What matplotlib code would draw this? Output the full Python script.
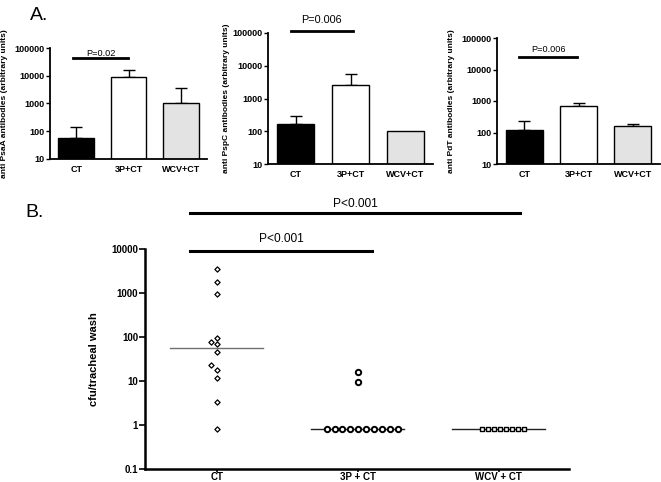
import numpy as np
import matplotlib
matplotlib.use("Agg")
import matplotlib.pyplot as plt
from matplotlib.transforms import blended_transform_factory

plt.rcParams['font.family'] = ['Liberation Sans', 'DejaVu Sans']

# ---------------- data ----------------
groups_a = ["CT", "3P+CT", "WCV+CT"]
psaa_mean = [59, 9300, 1070]
psaa_err = [79, 6500, 2630]
pspc_mean = [162, 2590, 104]
pspc_err = [138, 2860, 0]
pdt_mean = [119, 685, 160]
pdt_err = [111, 185, 28]
bar_colors = ["#000000", "#ffffff", "#e3e3e3"]
ytick_a = [10, 100, 1000, 10000, 100000]

groups_b = ["CT", "3P + CT", "WCV + CT"]
ct_cfu = [3600, 1780, 960, 93, 78, 69, 45, 23, 18, 11.5, 3.3, 0.83]
tp_cfu = [16, 9.6, 0.83, 0.83, 0.83, 0.83, 0.83, 0.83, 0.83, 0.83, 0.83, 0.83]
wcv_cfu = [0.83, 0.83, 0.83, 0.83, 0.83, 0.83, 0.83, 0.83]
ytick_b = [0.1, 1, 10, 100, 1000, 10000]

W, H = 661, 482
fig = plt.figure(figsize=(W / 100, H / 100), dpi=100)

def ax_px(l, t, r, b):
    return fig.add_axes([l / W, 1 - b / H, (r - l) / W, (b - t) / H])

def style(ax, lw=1.3):
    for s in ["top", "right"]:
        ax.spines[s].set_visible(False)
    for s in ["left", "bottom"]:
        ax.spines[s].set_linewidth(lw)

def bar_panel(ax, means, errs, ylabel, labx, pline, ptext, pfs):
    x = np.arange(len(groups_a))
    ax.bar(x, means, width=0.68, color=bar_colors, edgecolor="black", linewidth=1.0, zorder=2)
    errs = np.asarray(errs, dtype=float)
    keep = errs > 0
    ax.errorbar(x[keep], np.asarray(means)[keep], yerr=[np.zeros(keep.sum()), errs[keep]],
                fmt="none", ecolor="black", elinewidth=1.0, capsize=4, capthick=1.0, zorder=1)
    ax.set_yscale("log")
    ax.set_ylim(10, 100000)
    ax.set_xlim(-0.5, 2.5)
    ax.set_yticks(ytick_a)
    ax.set_yticklabels([str(v) for v in ytick_a])
    ax.minorticks_off()
    ax.set_xticks(x)
    ax.set_xticklabels(groups_a)
    ax.tick_params(axis="x", length=0, pad=4)
    ax.tick_params(axis="y", length=3, width=1, pad=1)
    for t in ax.get_xticklabels() + ax.get_yticklabels():
        t.set_fontsize(6.5)
        t.set_fontweight("bold")
    ax.set_ylabel(ylabel, fontsize=6.0, fontweight="bold")
    ax.yaxis.set_label_coords(labx, 0.5)
    style(ax)
    tr = blended_transform_factory(ax.transData, ax.transAxes)
    x0, x1, yl, yt = pline
    ax.plot([x0, x1], [yl, yl], color="black", lw=2, transform=tr, clip_on=False)
    ax.text((x0 + x1) / 2, yt, ptext, transform=tr, ha="center", va="baseline", fontsize=pfs)

ax1 = ax_px(50, 48, 207, 159)
bar_panel(ax1, psaa_mean, psaa_err, "anti PsaA antibodies (arbitrary units)", -0.27,
          (-0.06, 0.99, 0.91, 0.925), "P=0.02", 6.6)
ax2 = ax_px(268, 33, 433, 164)
bar_panel(ax2, pspc_mean, pspc_err, "anti PspC antibodies (arbitrary units)", -0.23,
          (-0.09, 1.04, 1.015, 1.08), "P=0.006", 7.8)
ax3 = ax_px(497, 38, 660, 164)
bar_panel(ax3, pdt_mean, pdt_err, "anti PdT antibodies (arbitrary units)", -0.26,
          (-0.09, 0.98, 0.85, 0.89), "P=0.006", 6.6)

# ---------------- panel B ----------------
axb = ax_px(145, 249, 569, 469)
ct_off = [0, 0, 0, 0, -0.043, 0, 0, -0.043, 0, 0, 0, 0]
axb.scatter(np.array(ct_off) + 0, ct_cfu, marker="D", s=7, facecolors="white",
            edgecolors="black", linewidths=0.9, zorder=3)
tp_off = [0, 0] + list(np.linspace(-0.22, 0.284, 10))
axb.scatter(np.array(tp_off) + 1, tp_cfu, marker="o", s=15, facecolors="white",
            edgecolors="black", linewidths=1.4, zorder=3)
wcv_off = list(np.linspace(-0.12, 0.177, 8))
axb.scatter(np.array(wcv_off) + 2, wcv_cfu, marker="s", s=10, facecolors="white",
            edgecolors="black", linewidths=1.0, zorder=3)
med_colors = ["#707070", "#222222", "#222222"]
for i, vals in enumerate([ct_cfu, tp_cfu, wcv_cfu]):
    m = np.median(vals)
    axb.plot([i - 0.33, i + 0.33], [m, m], color=med_colors[i], lw=1.0, zorder=2)

axb.set_yscale("log")
axb.set_ylim(0.1, 10000)
axb.set_xlim(-0.51, 2.5)
axb.set_yticks(ytick_b)
axb.set_yticklabels(["0.1", "1", "10", "100", "1000", "10000"])
axb.minorticks_off()
axb.set_xticks([0, 1, 2])
axb.set_xticklabels(groups_b)
axb.tick_params(axis="x", length=2, width=1.2, pad=0.3)
axb.tick_params(axis="y", length=4, width=1.2, pad=1)
for t in axb.get_xticklabels() + axb.get_yticklabels():
    t.set_fontsize(7)
    t.set_fontweight("bold")
axb.set_ylabel("cfu/tracheal wash", fontsize=8, fontweight="bold")
axb.yaxis.set_label_coords(-0.108, 0.5)
style(axb, lw=1.8)
trb = blended_transform_factory(axb.transData, axb.transAxes)
axb.plot([-0.19, 2.15], [1.164, 1.164], color="black", lw=2.2, transform=trb, clip_on=False)
axb.text((-0.19 + 2.15) / 2, 1.19, "P<0.001", transform=trb, ha="center", va="baseline", fontsize=8.6)
axb.plot([-0.19, 1.10], [0.99, 0.99], color="black", lw=2.2, transform=trb, clip_on=False)
axb.text((-0.19 + 1.10) / 2, 1.03, "P<0.001", transform=trb, ha="center", va="baseline", fontsize=8.6)

fig.text(30 / W, 1 - 20 / H, "A.", fontsize=14, va="baseline", ha="left")
fig.text(25 / W, 1 - 217 / H, "B.", fontsize=14, va="baseline", ha="left")

fig.savefig("out.png", dpi=100)
